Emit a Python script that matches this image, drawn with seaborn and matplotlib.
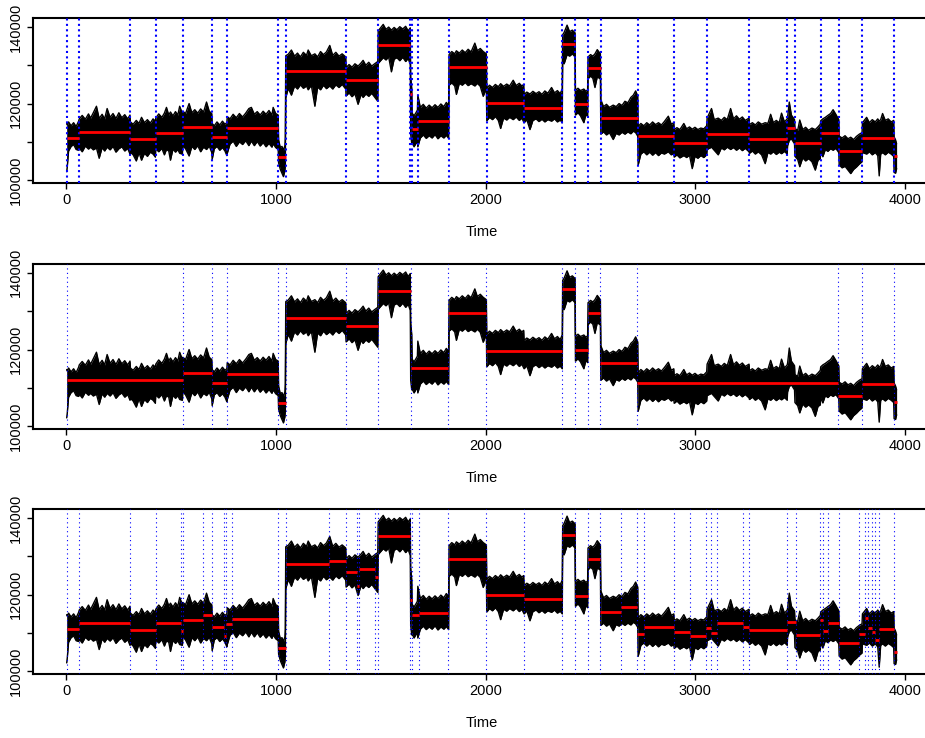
import numpy as np
import matplotlib
matplotlib.use("Agg")
import matplotlib.pyplot as plt
import seaborn as sns

# ---------------------------------------------------------------------------
# Observed series, summarised as the upper / lower envelope of the trace
# (values in thousands) at a set of time knots.
# ---------------------------------------------------------------------------
n_obs = 3960

band_t = [
    1, 4, 10, 22, 34, 46, 58,
    61, 75, 90, 105, 115, 128, 143, 156, 170, 182, 194, 208, 222, 236, 250, 264, 278, 292, 303,
    305, 318, 333, 346, 358, 372, 386, 400, 413, 424,
    426, 440, 455, 467, 477, 488, 496, 508, 520, 531, 540, 553,
    555, 568, 585, 598, 612, 626, 640, 654, 668, 681, 693,
    695, 705, 718, 731, 744, 756, 765,
    767, 780, 795, 810, 825, 840, 855, 870, 882, 896, 910, 924, 938, 952, 966, 980, 986, 998, 1010,
    1012, 1020, 1028, 1035, 1042, 1044,
    1046, 1058, 1073, 1088, 1102, 1116, 1130, 1145, 1153, 1168, 1185, 1198, 1212, 1226, 1240, 1256, 1270, 1285, 1300, 1315, 1332,
    1334, 1348, 1362, 1376, 1391, 1405, 1415, 1428, 1442, 1456, 1470, 1485,
    1487, 1498, 1511, 1524, 1537, 1550, 1563, 1576, 1590, 1604, 1618, 1630, 1640,
    1642, 1647,
    1649, 1658, 1667, 1674,
    1676, 1688, 1702, 1716, 1730, 1744, 1758, 1772, 1786, 1800, 1812, 1823,
    1825, 1838, 1852, 1860, 1874, 1888, 1902, 1916, 1930, 1948, 1960, 1974, 1988, 2003,
    2005, 2018, 2032, 2046, 2060, 2071, 2085, 2100, 2114, 2131, 2145, 2160, 2172, 2181,
    2183, 2196, 2211, 2225, 2240, 2254, 2268, 2282, 2296, 2314, 2328, 2342, 2355, 2365,
    2367, 2374, 2388, 2400, 2413, 2426,
    2428, 2440, 2452, 2468, 2478, 2486,
    2488, 2500, 2511, 2521, 2532, 2547,
    2549, 2562, 2576, 2590, 2608, 2622, 2636, 2650, 2664, 2678, 2692, 2704, 2715, 2725,
    2727, 2740, 2754, 2768, 2782, 2796, 2810, 2824, 2838, 2852, 2871, 2885, 2897,
    2899, 2912, 2926, 2945, 2958, 2972, 2985, 2998, 3012, 3026, 3040, 3054,
    3056, 3077, 3090, 3109, 3124, 3138, 3152, 3168, 3182, 3196, 3210, 3224, 3238, 3256,
    3258, 3272, 3286, 3300, 3316, 3333, 3346, 3359, 3372, 3386, 3400, 3411, 3425, 3438,
    3440, 3448, 3458, 3473,
    3475, 3488, 3498, 3512, 3526, 3540, 3556, 3572, 3585, 3596,
    3598, 3608, 3620, 3632, 3645, 3657, 3670, 3684,
    3686, 3700, 3714, 3728, 3741, 3755, 3768, 3782, 3795,
    3797, 3817, 3830, 3844, 3858, 3870, 3877, 3884, 3893, 3906, 3920, 3934, 3946,
    3948, 3955, 3960,
]

band_hi = [
    114.8, 114.4, 115.2, 114.2, 115.0, 114.0, 115.4,
    116.0, 116.9, 115.9, 117.3, 116.2, 117.6, 119.3, 116.1, 117.2, 116.0, 118.7, 116.4, 117.4, 116.1, 117.6, 116.3, 117.1, 116.0, 117.0,
    115.2, 114.6, 115.6, 114.8, 116.4, 115.0, 115.8, 114.9, 116.0, 115.4,
    116.2, 117.3, 116.4, 117.5, 119.0, 117.0, 117.8, 116.8, 117.9, 117.0, 119.3, 117.4,
    118.0, 117.4, 120.0, 117.6, 118.4, 117.5, 118.6, 117.8, 120.4, 118.0, 117.4,
    114.8, 114.2, 115.2, 114.4, 115.4, 114.6, 115.0,
    116.6, 116.0, 117.2, 116.3, 117.4, 116.5, 117.5, 118.7, 119.0, 117.2, 117.9, 117.0, 118.0, 117.2, 118.2, 117.0, 119.0, 117.4, 117.0,
    110.5, 108.5, 108.8, 107.8, 109.0, 111.0,
    132.5, 132.9, 134.0, 132.4, 133.2, 132.2, 133.4, 132.6, 134.0, 132.5, 133.0, 132.2, 133.6, 132.8, 133.5, 135.2, 132.6, 133.4, 132.4, 133.0, 132.2,
    129.4, 130.2, 129.5, 130.4, 129.8, 130.6, 131.3, 130.0, 130.8, 129.8, 130.4, 131.0,
    139.0, 139.8, 140.7, 139.4, 140.0, 139.2, 139.9, 139.3, 140.1, 139.5, 140.2, 139.0, 139.8,
    127.0, 124.0,
    117.5, 116.8, 117.6, 118.3,
    122.2, 119.0, 119.8, 118.8, 119.6, 118.9, 119.7, 119.0, 119.9, 119.2, 120.3, 119.5,
    132.8, 133.6, 133.0, 133.8, 133.2, 134.0, 133.3, 134.2, 133.5, 135.8, 133.8, 134.4, 133.6, 133.0,
    124.0, 124.8, 124.2, 125.0, 124.4, 125.2, 124.5, 125.1, 124.6, 126.1, 124.7, 125.3, 124.6, 125.0,
    122.4, 123.0, 122.5, 123.2, 122.6, 123.1, 122.4, 123.3, 122.7, 124.2, 122.8, 123.4, 122.6, 123.8,
    138.0, 138.6, 140.5, 138.8, 139.2, 138.5,
    123.5, 124.0, 123.4, 123.8, 123.2, 123.6,
    132.2, 132.8, 132.4, 133.0, 134.1, 133.0,
    121.0, 119.2, 119.8, 119.0, 119.6, 119.2, 120.0, 119.5, 120.6, 120.2, 121.6, 122.2, 123.3, 122.0,
    114.0, 114.8, 114.2, 115.0, 114.4, 115.2, 114.5, 115.0, 114.4, 115.3, 116.7, 114.6, 115.0,
    113.2, 113.7, 113.2, 114.8, 113.4, 113.9, 113.3, 113.8, 113.2, 113.6, 113.4, 114.2,
    116.2, 118.7, 115.8, 116.2, 115.6, 116.4, 115.8, 118.7, 116.0, 116.8, 115.9, 116.5, 115.6, 116.2,
    114.5, 115.0, 114.4, 115.2, 114.6, 115.0, 114.8, 117.2, 115.0, 115.6, 115.0, 117.5, 115.2, 116.0,
    116.5, 120.4, 117.0, 115.8,
    113.5, 113.0, 115.7, 113.2, 113.8, 113.0, 113.6, 113.2, 113.9, 114.6,
    115.5, 116.0, 116.4, 116.9, 117.4, 118.4, 117.2, 115.8,
    111.5, 111.0, 111.6, 110.8, 111.2, 110.6, 111.4, 112.0, 112.4,
    115.0, 116.4, 115.0, 115.8, 115.2, 116.0, 115.4, 115.8, 117.4, 115.6, 116.0, 115.2, 115.6,
    111.3, 110.5, 109.5,
]

band_lo = [
    102.2, 103.6, 107.6, 108.8, 109.3, 108.0, 107.8,
    108.4, 107.4, 108.9, 108.1, 108.6, 107.9, 108.4, 105.7, 108.5, 107.6, 108.6, 107.9, 108.8, 107.3, 108.2, 108.7, 107.6, 108.3, 106.8,
    107.3, 106.6, 105.0, 107.2, 105.2, 107.0, 106.2, 107.3, 106.8, 106.0,
    108.2, 107.4, 108.3, 106.6, 108.0, 107.6, 105.2, 108.1, 107.3, 108.0, 107.0, 106.8,
    109.0, 108.2, 106.3, 108.8, 108.0, 109.0, 107.4, 108.6, 108.0, 108.9, 107.2,
    105.4, 108.2, 108.8, 107.8, 108.5, 107.6, 106.4,
    107.0, 109.4, 110.2, 108.8, 110.0, 109.3, 110.3, 109.0, 110.2, 109.0, 110.1, 108.9, 109.8, 108.7, 109.6, 108.6, 109.5, 108.5, 108.0,
    104.5, 102.8, 101.8, 100.9, 102.5, 104.0,
    121.5, 124.0, 122.2, 124.6, 123.8, 124.9, 124.0, 124.6, 123.6, 124.8, 119.3, 124.3, 123.6, 124.8, 123.9, 124.6, 123.8, 124.9, 124.2, 125.0, 123.8,
    122.0, 122.8, 121.8, 122.6, 119.8, 122.4, 121.6, 122.5, 121.9, 122.7, 121.7, 120.6,
    130.5, 131.2, 132.0, 131.4, 132.2, 128.3, 131.6, 132.0, 131.2, 132.1, 131.0, 131.8, 130.2,
    112.0, 109.5,
    109.8, 108.7, 109.6, 110.0,
    108.7, 111.0, 111.8, 110.9, 111.6, 111.0, 111.9, 110.8, 111.6, 111.0, 111.7, 110.9,
    124.8, 125.4, 124.6, 122.4, 125.3, 124.8, 125.5, 124.7, 125.2, 124.6, 125.3, 124.5, 121.9, 124.0,
    115.5, 116.4, 115.8, 116.6, 115.6, 113.5, 116.2, 115.7, 116.4, 115.8, 116.5, 115.6, 116.2, 115.2,
    115.0, 115.8, 113.2, 115.6, 116.0, 115.3, 115.9, 115.2, 115.8, 115.4, 116.0, 115.2, 115.7, 115.0,
    131.5, 130.4, 132.8, 132.4, 133.0, 132.2,
    117.0, 117.6, 116.8, 115.0, 117.2, 116.6,
    126.5, 127.2, 126.6, 124.2, 127.0, 126.4,
    112.0, 112.6, 111.8, 112.4, 110.6, 112.2, 111.8, 112.5, 112.0, 112.6, 112.1, 112.8, 112.4, 111.5,
    103.9, 106.8, 107.4, 106.6, 107.3, 106.5, 107.2, 106.4, 107.1, 106.8, 107.4, 106.6, 107.0,
    106.0, 106.6, 105.8, 106.4, 105.9, 106.5, 103.0, 106.2, 105.7, 106.4, 105.9, 106.6,
    108.0, 108.6, 107.8, 106.6, 108.4, 107.9, 108.6, 108.0, 108.5, 107.8, 108.4, 107.7, 108.3, 107.4,
    107.0, 107.6, 106.8, 107.4, 106.6, 104.3, 107.2, 106.8, 107.4, 106.7, 107.3, 106.9, 107.5, 106.8,
    109.0, 110.4, 110.8, 109.5,
    106.2, 105.4, 103.5, 105.8, 105.0, 105.6, 104.8, 102.6, 105.2, 105.6,
    107.6, 106.1, 108.0, 107.5, 108.2, 107.8, 108.3, 107.2,
    104.0, 103.2, 103.6, 102.6, 101.7, 102.8, 103.4, 104.2, 104.8,
    107.2, 106.8, 107.4, 106.6, 107.2, 106.4, 101.1, 106.8, 107.2, 106.6, 107.3, 106.8, 106.2,
    102.0, 101.8, 103.0,
]

# ---------------------------------------------------------------------------
# Changepoint fits: change locations and segment means (thousands)
# ---------------------------------------------------------------------------
cpts_a = [2, 60, 304, 425, 554, 694, 766, 1011, 1045, 1333, 1486, 1641, 1648, 1675,
          1824, 2004, 2182, 2366, 2427, 2487, 2548, 2726, 2898, 3055, 3257, 3439,
          3474, 3597, 3685, 3796, 3947]
means_a = [103.5, 111.0, 112.7, 110.8, 112.4, 113.9, 111.3, 113.6, 106.1, 128.4, 126.1,
           135.3, 122.4, 113.4, 115.4, 129.5, 120.2, 118.9, 135.7, 119.8, 129.3, 116.3,
           111.4, 109.8, 112.1, 110.8, 113.6, 109.8, 112.3, 107.7, 110.9, 106.3]

cpts_b = [2, 557, 695, 767, 1010, 1045, 1333, 1485, 1643, 1821, 2001, 2365, 2425,
          2486, 2546, 2723, 3682, 3793, 3949]
means_b = [105.0, 112.2, 113.9, 111.3, 113.6, 106.1, 128.2, 126.1, 135.2, 115.2, 129.5,
           119.6, 135.7, 119.9, 129.4, 116.4, 111.3, 107.9, 110.9, 106.4]

cpts_c = [2, 62, 304, 425, 545, 556, 650, 695, 751, 763, 790, 1010, 1045, 1253, 1333,
          1388, 1395, 1474, 1487, 1641, 1649, 1683, 1821, 2001, 2182, 2365, 2425, 2486,
          2546, 2643, 2723, 2756, 2899, 2976, 3050, 3074, 3104, 3225, 3257, 3438, 3479,
          3596, 3607, 3634, 3683, 3779, 3810, 3825, 3842, 3858, 3874, 3949]
means_c = [103.3, 111.0, 112.7, 110.8, 112.5, 110.6, 113.5, 114.6, 111.6, 109.3, 112.4,
           113.6, 106.1, 127.9, 128.8, 125.9, 122.2, 126.7, 124.6, 135.2, 118.5, 114.7,
           115.3, 129.3, 120.0, 118.8, 135.6, 119.7, 129.2, 115.6, 116.8, 109.8, 111.6,
           110.2, 109.3, 111.3, 109.9, 112.5, 111.5, 110.8, 112.9, 109.6, 113.5, 110.5,
           112.6, 107.4, 109.8, 114.0, 111.4, 110.4, 108.3, 111.0, 105.0]

x_ticks = [0, 1000, 2000, 3000, 4000]
y_ticks = [100000, 110000, 120000, 130000, 140000]
y_tick_labels = ["100000", "", "120000", "", "140000"]
x_label = "Time"

assert len(band_t) == len(band_hi) == len(band_lo)

# ---------------------------------------------------------------------------
sns.set_style("ticks")
plt.rcParams["font.family"] = ["Liberation Sans", "DejaVu Sans"]
plt.rcParams["font.size"] = 10.5
plt.rcParams["axes.labelcolor"] = "black"
plt.rcParams["text.color"] = "black"

t = np.asarray(band_t, dtype=float)
hi = np.asarray(band_hi) * 1000.0
lo = np.asarray(band_lo) * 1000.0

ymin, ymax = lo.min(), hi.max()
yr = ymax - ymin
ylim = (ymin - 0.04 * yr, ymax + 0.04 * yr)
xr = n_obs - 1
xlim = (1 - 0.04 * xr, n_obs + 0.04 * xr)

fig = plt.figure(figsize=(9.25, 7.38), dpi=100)

panels = [
    dict(rect=[0.0362, 0.7524, 0.969, 0.2228], cpts=cpts_a, means=means_a,
         vlw=1.5, vdash=(0, (1.0, 1.6))),
    dict(rect=[0.0362, 0.4187, 0.969, 0.2236], cpts=cpts_b, means=means_b,
         vlw=0.8, vdash=(0, (1.0, 3.0))),
    dict(rect=[0.0362, 0.0867, 0.969, 0.2232], cpts=cpts_c, means=means_c,
         vlw=0.8, vdash=(0, (1.0, 3.0))),
]

for p in panels:
    ax = fig.add_axes(p["rect"])

    # the series trace
    ax.fill_between(t, lo, hi, color="black", linewidth=0, zorder=2)
    sns.lineplot(x=t, y=hi, ax=ax, color="black", linewidth=1.0,
                 sort=False, estimator=None, zorder=2)
    sns.lineplot(x=t, y=lo, ax=ax, color="black", linewidth=1.0,
                 sort=False, estimator=None, zorder=2)

    # change locations
    for c in p["cpts"]:
        ax.axvline(c, color="#0000FF", linewidth=p["vlw"],
                   linestyle=p["vdash"], zorder=3)

    # segment means
    starts = [1] + list(p["cpts"])
    ends = list(p["cpts"]) + [n_obs]
    ax.hlines(np.asarray(p["means"]) * 1000.0, starts, ends,
              colors="#FF0000", linewidth=2.0, zorder=4)

    ax.set_xlim(*xlim)
    ax.set_ylim(*ylim)
    ax.set_xticks(x_ticks)
    ax.set_xticklabels([str(v) for v in x_ticks])
    ax.set_yticks(y_ticks)
    ax.set_yticklabels(y_tick_labels)
    ax.set_xlabel(x_label, labelpad=13, color="black")
    ax.set_ylabel("")

    for s in ax.spines.values():
        s.set_linewidth(1.5)
        s.set_color("black")
        s.set_visible(True)
    ax.tick_params(axis="both", direction="out", length=4.3, width=1.0,
                   color="black", labelcolor="black", pad=3.0)
    ax.tick_params(axis="y", labelrotation=90)
    for lbl in ax.get_yticklabels():
        lbl.set_va("center")
    ax.grid(False)

fig.savefig("out.png", dpi=100)
